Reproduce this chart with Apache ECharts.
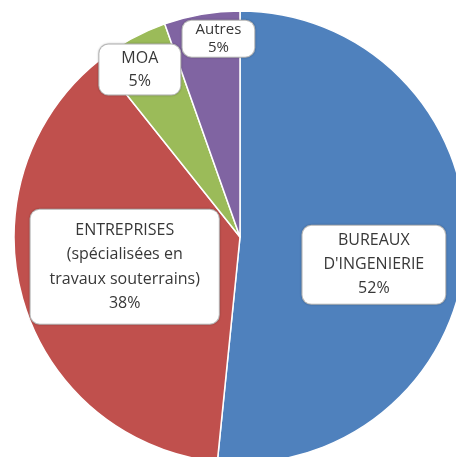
<!DOCTYPE html>
<html>
<head>
<meta charset="utf-8">
<script src="https://cdn.jsdelivr.net/npm/echarts@6/dist/echarts.min.js"></script>
<style>
  html, body { margin: 0; padding: 0; background: #fff; }
  #chart { width: 456px; height: 457px; }
</style>
</head>
<body>
<div id="chart"></div>
<script>
  // valeurs (pourcentages affichés arrondis)
  const categories = [
    "BUREAUX\nD'INGENIERIE",
    "ENTREPRISES\n(spécialisées en\ntravaux souterrains)",
    "MOA",
    "Autres",
  ];
  const values = [51.6, 37.7, 5.3, 5.4];
  const colors = ["#4f81bd", "#c0504d", "#9bbb59", "#8064a2"];

  // décalage des étiquettes par rapport à la position "inside" par défaut
  const labelShift = [
    { dx: 18, dy: 22 },
    { dx: -4, dy: -3 },
    { dx: -44, dy: -66 },
    { dx: -2, dy: -84 },
  ];
  const labelBox = [
    { padding: [3, 21], lineHeight: 24, fontSize: 16 },
    { padding: [8, 19], lineHeight: 24.5, fontSize: 16 },
    { padding: [2, 22], lineHeight: 23, fontSize: 16 },
    { padding: [0, 13], lineHeight: 18, fontSize: 15 },
  ];

  const chart = echarts.init(document.getElementById("chart"), null, { renderer: "canvas" });
  chart.setOption({
    animation: false,
    series: [
      {
        type: "pie",
        center: [240, 237],
        radius: 226,
        startAngle: 90,
        clockwise: true,
        percentPrecision: 0,
        avoidLabelOverlap: false,
        itemStyle: { borderColor: "#ffffff", borderWidth: 1.5 },
        label: {
          show: true,
          position: "inside",
          formatter: "{b}\n{d}%",
          color: "#383838",
          fontFamily: "Open Sans",
          align: "center",
          backgroundColor: "#ffffff",
          borderColor: "#c4c4c4",
          borderWidth: 1,
          borderRadius: 9,
          shadowColor: "rgba(0,0,0,0.25)",
          shadowBlur: 2,
        },
        labelLine: { show: false },
        emphasis: { disabled: true },
        labelLayout: (p) => labelShift[p.dataIndex],
        data: categories.map((name, i) => ({
          name,
          value: values[i],
          itemStyle: { color: colors[i] },
          label: labelBox[i],
        })),
      },
    ],
  });
</script>
</body>
</html>
